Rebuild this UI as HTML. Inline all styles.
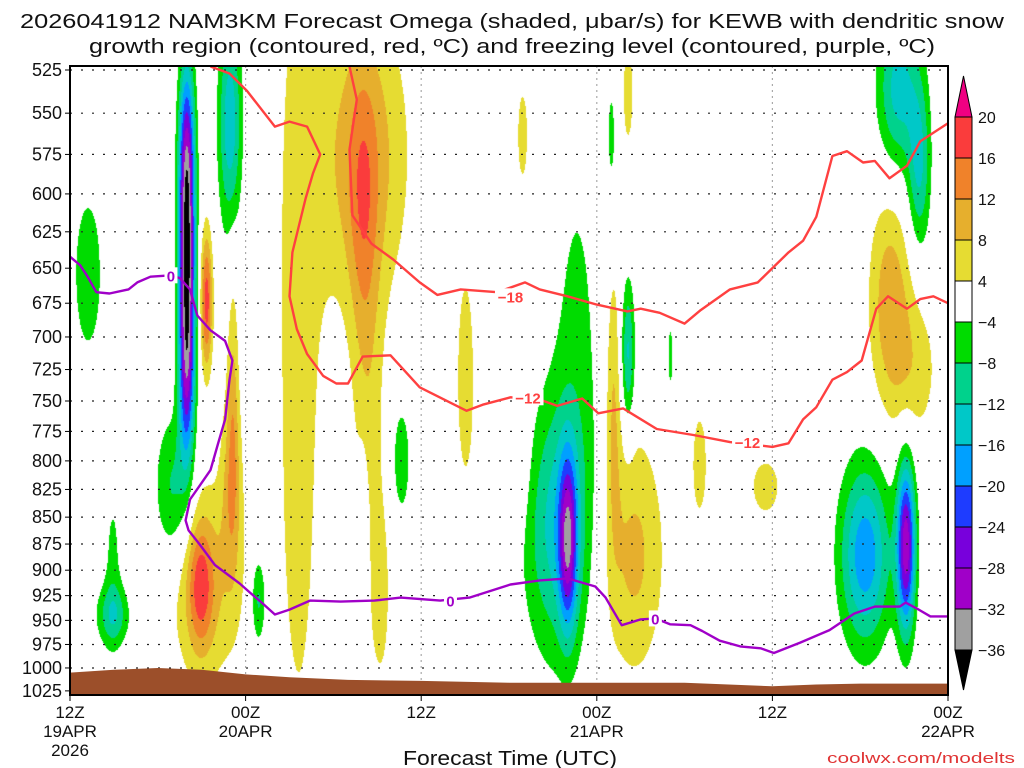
<!DOCTYPE html>
<html><head><meta charset="utf-8"><style>
html,body{margin:0;padding:0;background:#fff;}
#wrap{position:relative;width:1024px;height:768px;overflow:hidden;background:#fff;}
#field{position:absolute;left:70px;top:66px;}
#svg{position:absolute;left:0;top:0;}
text{font-family:"Liberation Sans",sans-serif;fill:#111;}
</style></head><body>
<div id="wrap">
<canvas id="field" width="878" height="629"></canvas>
<svg id="svg" width="1024" height="768" xmlns="http://www.w3.org/2000/svg">
<text x="512" y="28" text-anchor="middle" font-size="20" textLength="984" lengthAdjust="spacingAndGlyphs">2026041912 NAM3KM Forecast Omega (shaded, μbar/s) for KEWB with dendritic snow</text>
<text x="512" y="53" text-anchor="middle" font-size="20" textLength="846" lengthAdjust="spacingAndGlyphs">growth region (contoured, red, ºC) and freezing level (contoured, purple, ºC)</text>
<text x="510" y="765" text-anchor="middle" font-size="20" textLength="214" lengthAdjust="spacingAndGlyphs">Forecast Time (UTC)</text>
<text x="1015" y="763" text-anchor="end" font-size="15" style="fill:#e03434" textLength="188" lengthAdjust="spacingAndGlyphs">coolwx.com/modelts</text>
<g id="grid"></g><g id="terrain"></g><g id="lines"></g><g id="axes"></g><g id="cbar"></g>
</svg>
</div>
<script>
// ---- data ----
const levelBounds=[-36,-32,-28,-24,-20,-16,-12,-8,-4,4,8,12,16,20];
const levelColors=["#000000","#a0a0a0","#a000c8","#7800dc","#1e3cff","#00a0ff","#00c8c8","#00d28c","#00dc00","#ffffff","#e6dc32","#e6af2d","#f0822a","#fa3c3c","#f00082"];
const pressureTicks=[525,550,575,600,625,650,675,700,725,750,775,800,825,850,875,900,925,950,975,1000,1025];
const timeTicks=[0,12,24,36,48,60];
const timeLabels1=["12Z","00Z","12Z","00Z","12Z","00Z"];
const timeLabels2=["19APR","20APR","","21APR","","22APR"];
const timeLabels3=["2026","","","","",""];
// omega features: centre hour, half-width (h), top p, bottom p, amplitude
const blobT  =[1.2,2.9,2.9,7.95,7.95,7.95,7.0,10.9,9.3,11.1,9.2,8.9,11.0,12.85,15.6,20.0,20.0,20.3,21.2,22.6,20.0,27.0,30.1,30.9,37.0,38.1,34.0,33.2,34.6,38.1,37.1,38.5,41.0,43.0,47.5,56.6,58.0,56.0,57.6,54.3,57.1];
const blobHW =[0.8,1.1,0.3,0.75,0.75,0.75,1.2,0.9,0.5,0.3,2.3,0.9,0.6,0.5,1.1,3.0,0.6,0.7,0.4,0.5,0.2,0.5,0.6,0.3,0.2,0.3,0.8,2.4,0.8,0.5,0.45,1.9,0.15,0.4,0.8,1.6,0.8,1.4,1.2,2.1,0.9];
const blobTop=[609,915,851,497,560,631,765,487,614,660,826,855,750,885,497,487,557,672,876,760,821,665,776,540,542,514,776,741,627,655,655,784,695,767,802,487,531,600,687,785,770];
const blobBot=[702,975,929,663,741,834,895,634,737,819,1004,982,890,975,1002,680,665,855,982,839,900,804,834,587,587,563,982,997,791,775,855,998,737,839,843,590,641,746,765,997,997];
const blobAmp=[-7,-10,-5,-26,-26,-26,-10,-15,18,7,8,12,8,-10,6,11,6,6,5,-7,-5,6,5,5,-5,5,-22,-13,-5,-13,8,9,-5,5,5,-14,-12,10,6,-19,-30];
// terrain (surface pressure)
const terrT=[0,3,6,9,12,15,19,24,30,36,42,48,51,54,60];
const terrP=[1005,1002,1000,1002,1007,1010,1013,1014,1016,1016,1016,1020,1018,1017,1017];
// freezing level 0C
const zeroT=[0,0.7,1.2,1.8,2.7,4.0,4.6,5.5,6.9,7.5,8.2,8.7,9.6,10.6,11.1,10.9,10.6,10.1,9.6,8.9,8.2,7.9,8.1,8.9,9.9,11.6,12.3,13.1,14.0,15.0,16.4,18.5,20.8,22.6,25.3,27.3,30.1,32.1,34.0,35.9,36.6,37.7,39.0,40.0,41.0,42.4,43.2,44.4,45.8,47.2,48.1,49.9,51.9,53.6,55.0,56.7,57.1,58.0,58.8,60];
const zeroP=[642,648,656,667,668,665,660,656,655,657,665,684,695,703,718,733,765,786,808,821,834,853,862,876,895,913,922,932,944,939,930,931,930,927,930,927,914,910,908,916,927,955,949,948,954,955,961,971,977,979,984,973,960,943,936,936,932,939,946,946];
// -12C line
const m12T=[9.6,10.9,12.1,14.0,15.0,16.2,17.1,16.6,16.1,15.2,15.0,15.5,16.2,17.3,18.2,19.0,20.0,21.9,23.9,27.1,28.2,30.1,31.9,33.3,35.0,36.1,37.8,40.1,42.6,45.1,48.0,49.1,50.1,51.0,52.1,53.1,54.1,55.1,55.9,57.2,58.1,59.0,60];
const m12P=[523,527,537,558,555,558,575,587,603,639,670,694,713,730,736,736,715,714,739,758,753,747,748,754,748,760,756,773,778,784,788,785,765,755,733,727,718,679,670,679,672,670,675];
// -18C line
const m18T=[19.1,19.6,19.1,19.3,20.6,22.1,23.9,25.1,26.7,29.2,31.1,32.1,34.0,36.0,38.1,39.0,40.3,42.0,43.1,45.1,47.0,49.1,50.1,51.0,52.1,53.1,54.2,55.0,56.0,57.2,58.1,60];
const m18P=[523,542,572,614,633,644,660,669,665,667,660,665,670,676,681,679,682,690,680,665,660,639,631,615,576,573,580,579,590,582,567,556];
const labelText=["0","0","0","−18","−12","−12"];
const labelT=[6.9,26.0,40.0,30.1,31.3,46.3];
const labelP=[655,930,948,670,747,784];
const labelKind=["zero","zero","zero","red","red","red"];

// ---- scales ----
const X0=70,X1=948,Y0=66,Y1=695;
function xOf(t){return X0+t*(X1-X0)/60;}
function yOf(p){return 70+928*Math.log(p/525);}
const NS="http://www.w3.org/2000/svg";
function mk(tag,attrs,parent){const e=document.createElementNS(NS,tag);for(const k in attrs)e.setAttribute(k,attrs[k]);parent.appendChild(e);return e;}

// ---- shaded field ----
(function(){
 const cv=document.getElementById('field');const W=cv.width,H=cv.height;
 const f=new Float32Array(W*H);
 const pxh=(X1-X0)/60;
 for(let b=0;b<blobT.length;b++){
  const A=blobAmp[b];const L=Math.log(Math.abs(A)/4);if(L<=0)continue;
  const yt=yOf(blobTop[b]),yb=yOf(blobBot[b]);
  const yc=(yt+yb)/2-Y0,half=(yb-yt)/2;
  const sx=blobHW[b]*pxh/Math.sqrt(L),sy=half/Math.sqrt(L);
  const xc=xOf(blobT[b])-X0;
  const x0=Math.max(0,Math.floor(xc-3.2*sx)),x1=Math.min(W-1,Math.ceil(xc+3.2*sx));
  const y0=Math.max(0,Math.floor(yc-3.2*sy)),y1=Math.min(H-1,Math.ceil(yc+3.2*sy));
  for(let y=y0;y<=y1;y++){const dy=(y-yc)/sy;const ey=dy*dy;
   for(let x=x0;x<=x1;x++){const dx=(x-xc)/sx;f[y*W+x]+=A*Math.exp(-dx*dx-ey);}}
 }
 const ctx=cv.getContext('2d');const img=ctx.createImageData(W,H);
 const rgb=levelColors.map(c=>[parseInt(c.substr(1,2),16),parseInt(c.substr(3,2),16),parseInt(c.substr(5,2),16)]);
 for(let i=0;i<W*H;i++){const v=f[i];let k=0;while(k<levelBounds.length&&v>=levelBounds[k])k++;
  const c=rgb[k];img.data[i*4]=c[0];img.data[i*4+1]=c[1];img.data[i*4+2]=c[2];img.data[i*4+3]=255;}
 ctx.putImageData(img,0,0);
})();

// ---- terrain ----
(function(){
 const g=document.getElementById('terrain');
 let d="M"+X0+","+Y1;
 for(let i=0;i<terrT.length;i++)d+=" L"+xOf(terrT[i]).toFixed(1)+","+yOf(terrP[i]).toFixed(1);
 d+=" L"+X1+","+Y1+" Z";
 const p=mk('path',{d:d,fill:'#9c4f2a'},g);
 
 
})();

// ---- grid ----
(function(){
 const g=document.getElementById('grid');
 pressureTicks.forEach(p=>{const y=yOf(p).toFixed(1);
  const l=mk('line',{x1:X0,x2:X1,y1:y,y2:y,stroke:'#222','stroke-width':1.2,'stroke-dasharray':'2,9'},g);
  });
 timeTicks.slice(1,5).forEach(t=>{const x=xOf(t).toFixed(1);
  const l=mk('line',{x1:x,x2:x,y1:Y0,y2:Y1,stroke:'#aaa','stroke-width':1.2,'stroke-dasharray':'2,4'},g);
  });
})();

// ---- contour lines ----
(function(){
 const g=document.getElementById('lines');
 function line(T,P,col,name){let d="";for(let i=0;i<T.length;i++)d+=(i?" L":"M")+xOf(T[i]).toFixed(1)+","+yOf(P[i]).toFixed(1);
  const p=mk('path',{d:d,fill:'none',stroke:col,'stroke-width':2.4,'stroke-linejoin':'round'},g);
  }
 line(m18T,m18P,'#ff4040','contour-minus-18');
 line(m12T,m12P,'#ff4040','contour-minus-12');
 line(zeroT,zeroP,'#a000c8','freezing-level-0');
 for(let i=0;i<labelText.length;i++){
  const x=xOf(labelT[i]),y=yOf(labelP[i]);const col=labelKind[i]=="zero"?'#a000c8':'#ff4040';
  const w=labelText[i].length*9+4;
  mk('rect',{x:x-w/2,y:y-8,width:w,height:16,fill:'#fff'},g);
  const t=mk('text',{x:x,y:y+6,'text-anchor':'middle','font-size':15,'font-weight':'bold',style:'fill:'+col},g);
  t.textContent=labelText[i];
  
 }
})();

// ---- axes ----
(function(){
 const g=document.getElementById('axes');
 const fr=mk('rect',{x:X0,y:Y0,width:X1-X0,height:Y1-Y0,fill:'none',stroke:'#000','stroke-width':2},g);
 
 pressureTicks.forEach(p=>{const y=yOf(p);
  mk('line',{x1:X0-5,x2:X0,y1:y,y2:y,stroke:'#000','stroke-width':1},g);
  const t=mk('text',{x:X0-8,y:y+6,'text-anchor':'end','font-size':18},g);t.textContent=p;
  });
 timeTicks.forEach((tt,i)=>{const x=xOf(tt);
  mk('line',{x1:x,x2:x,y1:Y1,y2:Y1+6,stroke:'#000','stroke-width':1},g);
  [timeLabels1[i],timeLabels2[i],timeLabels3[i]].forEach((s,k)=>{if(!s)return;
   const t=mk('text',{x:x,y:718+k*19,'text-anchor':'middle','font-size':17},g);t.textContent=s;
   });});
})();

// ---- colorbar ----
(function(){
 const g=document.getElementById('cbar');
 const cx0=955,cx1=972,top=117,bh=41;
 const n=levelBounds.length-1;
 for(let i=0;i<n;i++){
  const k=levelColors.length-2-i;
  const r=mk('rect',{x:cx0,y:top+i*bh,width:cx1-cx0,height:bh,fill:levelColors[k],stroke:'#000','stroke-width':1},g);
  }
 const tp=mk('polygon',{points:cx0+","+top+" "+cx1+","+top+" "+((cx0+cx1)/2)+",76",fill:levelColors[levelColors.length-1],stroke:'#000','stroke-width':1},g);
 
 const yb=top+n*bh;
 const bp=mk('polygon',{points:cx0+","+yb+" "+cx1+","+yb+" "+((cx0+cx1)/2)+",690",fill:levelColors[0],stroke:'#000','stroke-width':1},g);
 
 for(let i=0;i<=n;i++){const v=levelBounds[levelBounds.length-1-i];
  const t=mk('text',{x:978,y:top+i*bh+6,'font-size':16},g);t.textContent=(v<0?"−"+(-v):v);
  }
})();
</script>
</body></html>
